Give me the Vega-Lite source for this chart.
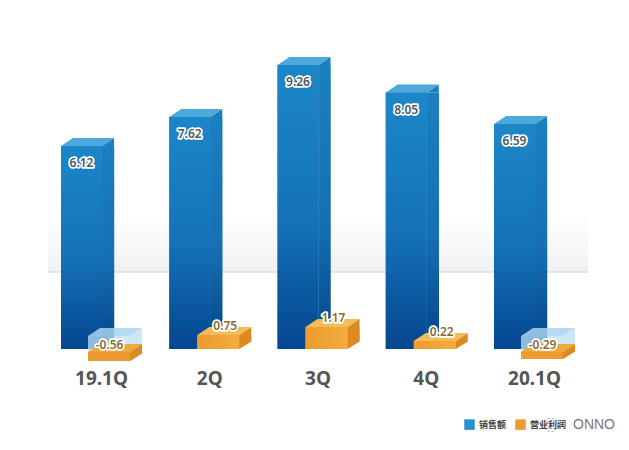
{
  "$schema": "https://vega.github.io/schema/vega-lite/v6.json",
  "width": 629,
  "height": 450,
  "padding": 0,
  "autosize": "none",
  "background": "white",
  "config": {"view": {"stroke": null}},
  "data": {
    "values": [
      {"quarter": "19.1Q", "revenue": 6.12, "profit": -0.56},
      {"quarter": "2Q", "revenue": 7.62, "profit": 0.75},
      {"quarter": "3Q", "revenue": 9.26, "profit": 1.17},
      {"quarter": "4Q", "revenue": 8.05, "profit": 0.22},
      {"quarter": "20.1Q", "revenue": 6.59, "profit": -0.29}
    ]
  },
  "encoding": {
    "x": {
      "field": "quarter",
      "type": "nominal",
      "sort": null,
      "scale": {"type": "point", "domain": ["19.1Q", "2Q", "3Q", "4Q", "20.1Q"], "range": [101, 534], "padding": 0},
      "axis": {"title": null, "orient": "bottom", "offset": -81, "domain": false, "ticks": false, "labelAngle": 0, "labelPadding": 0, "labelFont": "Noto Sans", "labelFontWeight": 700, "labelFontSize": 19, "labelColor": "#555555"}
    }
  },
  "layer": [
    {
      "encoding": {
        "y": {
          "field": "revenue",
          "type": "quantitative",
          "scale": {"domain": [0, 6.12, 6.59, 7.62, 8.05, 9.26], "range": [349, 146, 124, 117, 92.5, 65]},
          "axis": null
        }
      },
      "layer": [
        {
          "transform": [{"filter": "datum.quarter == '3Q'"}],
          "mark": {"type": "rect", "xOffset": -53, "x2Offset": 54, "color": {"gradient": "linear", "x1": 0, "y1": 0, "x2": 0, "y2": 1, "stops": [{"offset": 0, "color": "#ffffff"}, {"offset": 1, "color": "#f1f1f1"}]}},
          "encoding": {
            "x": {"datum": "19.1Q"},
            "x2": {"datum": "20.1Q"},
            "y": {"datum": 4.04},
            "y2": {"datum": 2.32}
          }
        },
        {
          "transform": [{"filter": "datum.quarter == '3Q'"}],
          "mark": {"type": "rule", "xOffset": -53, "x2Offset": 54, "color": "#dcdcdc", "strokeWidth": 1.5},
          "encoding": {
            "x": {"datum": "19.1Q"},
            "x2": {"datum": "20.1Q"},
            "y": {"datum": 2.32}
          }
        },
        {
          "mark": {"type": "bar", "width": 12.5, "xOffset": 7, "color": {"gradient": "linear", "x1": 0, "y1": 0, "x2": 0, "y2": 1, "stops": [{"offset": 0, "color": "#1b7fc0"}, {"offset": 0.55, "color": "#1670b2"}, {"offset": 1, "color": "#044488"}]}},
          "encoding": {"y2": {"datum": 0}}
        },
        {
          "mark": {"type": "point", "filled": true, "opacity": 1, "size": 40000, "strokeWidth": 0, "xOffset": -40, "color": "#1b7fc0", "shape": "M0.41,0L0.53,-0.08L0.53,0Z"}
        },
        {
          "mark": {"type": "point", "filled": true, "opacity": 1, "size": 40000, "strokeWidth": 0, "xOffset": -40, "color": "#4fa8dc", "shape": "M0,0L0.41,0L0.53,-0.08L0.12,-0.08Z"}
        },
        {
          "mark": {"type": "bar", "width": 41, "xOffset": -19.5},
          "encoding": {
            "y2": {"datum": 0},
            "color": {
              "datum": "销售额",
              "scale": {"domain": ["销售额", "营业利润"], "range": ["#2a8fcb", "#ec9c2e"]},
              "legend": {"title": null, "orient": "none", "legendX": 464, "legendY": 419, "direction": "horizontal", "columns": 2, "symbolType": "square", "symbolSize": 110, "symbolStrokeWidth": 0, "columnPadding": 8, "labelOffset": 4, "labelFont": "Noto Sans CJK SC", "labelFontWeight": "bold", "labelFontSize": 9, "labelColor": "#444444"}
            }
          }
        },
        {
          "mark": {"type": "bar", "width": 41, "xOffset": -19.5, "color": {"gradient": "linear", "x1": 0, "y1": 0, "x2": 0, "y2": 1, "stops": [{"offset": 0, "color": "#1c87c8"}, {"offset": 0.55, "color": "#1472b8"}, {"offset": 1, "color": "#04468f"}]}},
          "encoding": {"y2": {"datum": 0}}
        },
        {
          "mark": {"type": "text", "xOffset": -19.5, "yOffset": 17, "font": "Noto Sans", "fontWeight": 600, "fontSize": 12, "stroke": "white", "strokeWidth": 3.5, "strokeJoin": "round", "color": "white"},
          "encoding": {"text": {"field": "revenue", "type": "quantitative", "format": ".2f"}}
        },
        {
          "mark": {"type": "text", "xOffset": -19.5, "yOffset": 17, "font": "Noto Sans", "fontWeight": 600, "fontSize": 12, "color": "#4b5763"},
          "encoding": {"text": {"field": "revenue", "type": "quantitative", "format": ".2f"}}
        }
      ]
    },
    {
      "encoding": {
        "y": {
          "field": "profit",
          "type": "quantitative",
          "scale": {"domain": [-0.56, -0.29, -0.09, 0, 0.22, 0.75, 1.17], "range": [361, 359, 352, 349, 341, 335, 327]},
          "axis": null
        }
      },
      "layer": [
        {
          "transform": [{"filter": "datum.profit < 0"}],
          "layer": [
            {
              "mark": {"type": "point", "filled": true, "size": 40000, "strokeWidth": 0, "xOffset": -13, "color": "#bfe0f2", "opacity": 0.75, "shape": "M0,0.03L0.42,0.03L0.42,-0.13L0,-0.13Z"},
              "encoding": {"y": {"datum": 0}}
            },
            {
              "mark": {"type": "point", "filled": true, "size": 40000, "strokeWidth": 0, "xOffset": -13, "color": "#a9d4ee", "opacity": 0.85, "shape": "M0,-0.13L0.42,-0.13L0.54,-0.21L0.12,-0.21Z"},
              "encoding": {"y": {"datum": 0}}
            },
            {
              "mark": {"type": "point", "filled": true, "size": 40000, "strokeWidth": 0, "xOffset": -13, "color": "#c4e2f3", "opacity": 0.85, "shape": "M0.42,0.03L0.54,-0.05L0.54,-0.21L0.42,-0.13Z"},
              "encoding": {"y": {"datum": 0}}
            },
            {
              "mark": {"type": "bar", "width": 12.5, "xOffset": 35, "color": "#dc8a20"},
              "encoding": {"y2": {"datum": -0.09}}
            },
            {
              "mark": {"type": "point", "filled": true, "opacity": 1, "size": 40000, "strokeWidth": 0, "xOffset": -13, "color": "white", "shape": "M0.42,0L0.55,-0.08L0.55,0.01L0.42,0.01Z"}
            },
            {
              "mark": {"type": "point", "filled": true, "opacity": 1, "size": 40000, "strokeWidth": 0, "xOffset": -13, "color": "#dc8a20", "shape": "M0.42,0L0.54,-0.08L0.54,0Z"},
              "encoding": {"y": {"datum": -0.09}}
            },
            {
              "mark": {"type": "point", "filled": true, "opacity": 1, "size": 40000, "strokeWidth": 0, "xOffset": -13, "color": "#eea83c", "shape": "M0,0L0.42,0L0.54,-0.08L0.12,-0.08Z"},
              "encoding": {"y": {"datum": -0.09}}
            },
            {
              "mark": {"type": "bar", "width": 42, "xOffset": 8},
              "encoding": {
                "y2": {"datum": -0.09},
                "color": {"datum": "营业利润"}
              }
            },
            {
              "mark": {"type": "text", "xOffset": 8.5, "yOffset": -4.5, "font": "Noto Sans", "fontWeight": 600, "fontSize": 12, "stroke": "white", "strokeWidth": 3.5, "strokeJoin": "round", "color": "white"},
              "encoding": {"y": {"datum": 0}, "text": {"field": "profit", "type": "nominal"}}
            },
            {
              "mark": {"type": "text", "xOffset": 8.5, "yOffset": -4.5, "font": "Noto Sans", "fontWeight": 600, "fontSize": 12, "color": "#8a6a33"},
              "encoding": {"y": {"datum": 0}, "text": {"field": "profit", "type": "nominal"}}
            }
          ]
        },
        {
          "transform": [{"filter": "datum.profit > 0"}],
          "layer": [
            {
              "mark": {"type": "bar", "width": 12.5, "xOffset": 36, "color": "#dc8a20"},
              "encoding": {"y2": {"datum": 0}}
            },
            {
              "mark": {"type": "point", "filled": true, "opacity": 1, "size": 40000, "strokeWidth": 0, "xOffset": -12, "color": "white", "shape": "M0.42,0L0.55,-0.08L0.55,0.01L0.42,0.01Z"},
              "encoding": {"y": {"datum": 0}}
            },
            {
              "mark": {"type": "point", "filled": true, "opacity": 1, "size": 40000, "strokeWidth": 0, "xOffset": -12, "color": "#dc8a20", "shape": "M0.42,0L0.54,-0.08L0.54,0Z"}
            },
            {
              "mark": {"type": "point", "filled": true, "opacity": 1, "size": 40000, "strokeWidth": 0, "xOffset": -12, "color": "#f4bb5a", "shape": "M0,0L0.42,0L0.54,-0.08L0.12,-0.08Z"}
            },
            {
              "mark": {"type": "bar", "width": 42, "xOffset": 9},
              "encoding": {
                "y2": {"datum": 0},
                "color": {"datum": "营业利润"}
              }
            },
            {
              "mark": {"type": "bar", "width": 42, "xOffset": 9, "color": {"gradient": "linear", "x1": 0, "y1": 0, "x2": 1, "y2": 0, "stops": [{"offset": 0, "color": "#ec9a2c"}, {"offset": 1, "color": "#f2ad3e"}]}},
              "encoding": {"y2": {"datum": 0}}
            },
            {
              "mark": {"type": "text", "xOffset": 16, "yOffset": -9, "font": "Noto Sans", "fontWeight": 600, "fontSize": 12, "stroke": "white", "strokeWidth": 3.5, "strokeJoin": "round", "color": "white"},
              "encoding": {"text": {"field": "profit", "type": "quantitative", "format": ".2f"}}
            },
            {
              "mark": {"type": "text", "xOffset": 16, "yOffset": -9, "font": "Noto Sans", "fontWeight": 600, "fontSize": 12, "color": "#8a6a33"},
              "encoding": {"text": {"field": "profit", "type": "quantitative", "format": ".2f"}}
            }
          ]
        },
        {
          "transform": [{"filter": "datum.quarter == '20.1Q'"}],
          "layer": [
            {
              "mark": {"type": "text", "align": "center", "xOffset": 60, "yOffset": 76, "font": "Liberation Sans", "fontSize": 14, "color": "#777777", "text": "ONNO"},
              "encoding": {"y": {"datum": 0}}
            },
            {
              "mark": {"type": "point", "shape": "circle", "size": 180, "xOffset": 17, "yOffset": 76, "fill": "white", "filled": true, "stroke": "#999999", "strokeWidth": 1, "strokeDash": [2, 2], "opacity": 1},
              "encoding": {"y": {"datum": 0}}
            }
          ]
        }
      ]
    }
  ],
  "resolve": {"scale": {"y": "independent"}}
}
